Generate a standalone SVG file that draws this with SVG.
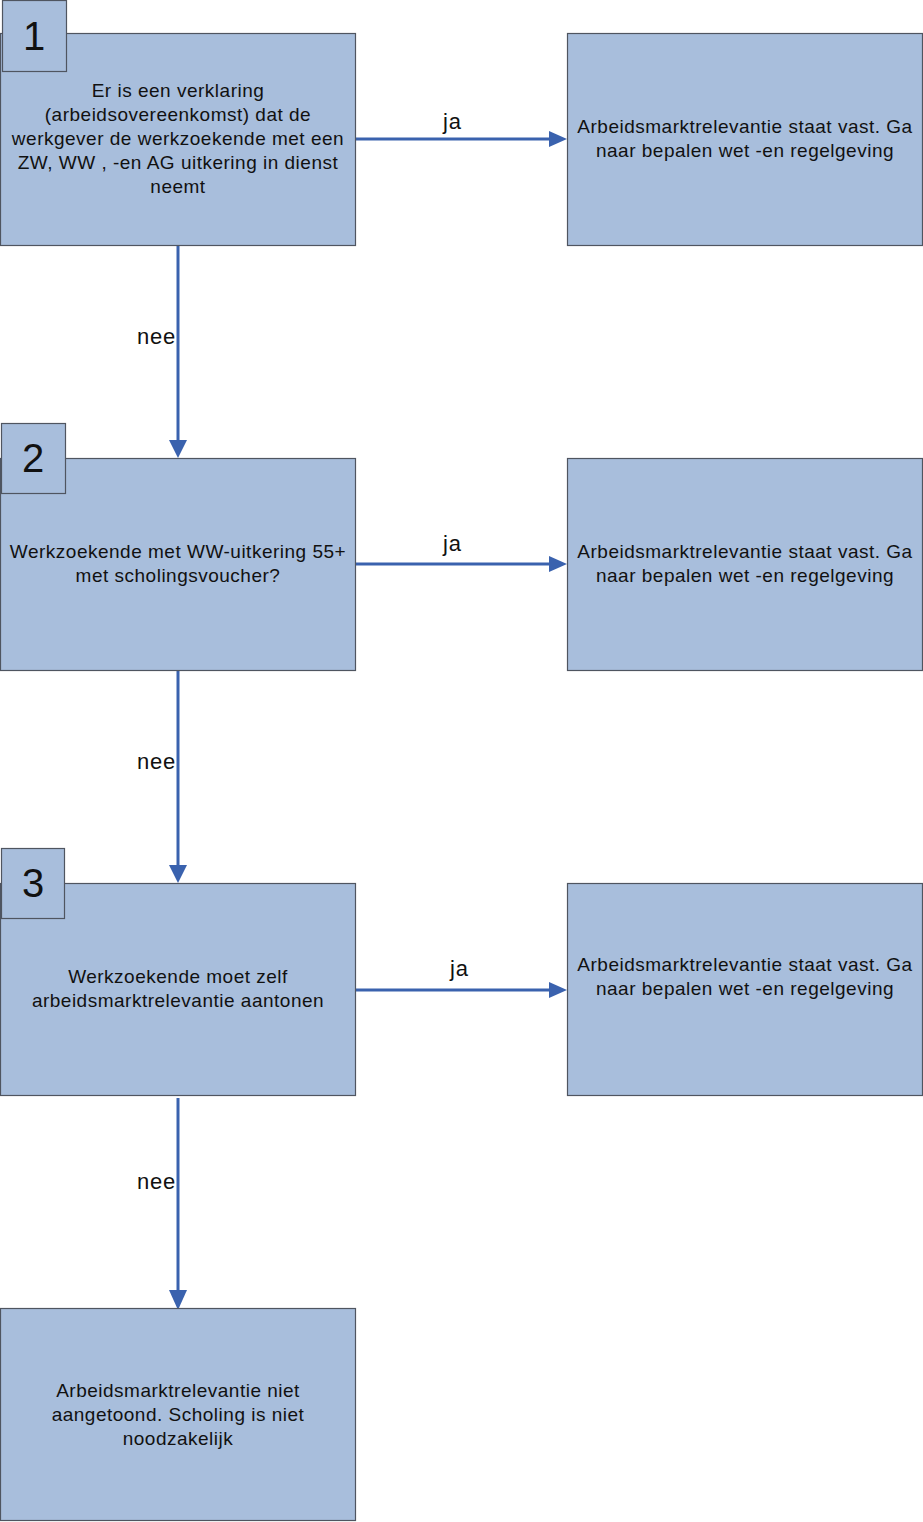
<svg xmlns="http://www.w3.org/2000/svg" width="923" height="1522" viewBox="0 0 923 1522">
<style>
.box{fill:#a8bedc;stroke:#4f5560;stroke-width:1.2}
.t{font-family:"Liberation Sans",Arial,sans-serif;font-size:19px;letter-spacing:0.5px;fill:#111;text-anchor:middle}
.num{font-family:"Liberation Sans",Arial,sans-serif;font-size:40px;fill:#111;text-anchor:middle}
.lbl{font-family:"Liberation Sans",Arial,sans-serif;font-size:22px;letter-spacing:0.8px;fill:#111}
.c{stroke:#3a62ae;stroke-width:3;fill:none}
.ah{fill:#3a62ae}
</style>
<rect width="923" height="1522" fill="#fff"/>
<g id="connectors">
<line class="c" x1="355" y1="139" x2="552" y2="139"/>
<path class="ah" d="M549,131 L567,139 L549,147 z"/>
<line class="c" x1="355" y1="564" x2="552" y2="564"/>
<path class="ah" d="M549,556 L567,564 L549,572 z"/>
<line class="c" x1="355" y1="990" x2="552" y2="990"/>
<path class="ah" d="M549,982 L567,990 L549,998 z"/>
<line class="c" x1="178" y1="245" x2="178" y2="443"/>
<path class="ah" d="M169,440 L178,458 L187,440 z"/>
<line class="c" x1="178" y1="670" x2="178" y2="868"/>
<path class="ah" d="M169,865 L178,883 L187,865 z"/>
<line class="c" x1="178" y1="1098" x2="178" y2="1293"/>
<path class="ah" d="M169,1290 L178,1310 L187,1290 z"/>
<text class="lbl" x="443" y="129">ja</text>
<text class="lbl" x="443" y="551">ja</text>
<text class="lbl" x="450" y="976">ja</text>
<text class="lbl" x="137" y="344">nee</text>
<text class="lbl" x="137" y="769">nee</text>
<text class="lbl" x="137" y="1189">nee</text>
</g>
<g id="node1">
<rect class="box" x="0.5" y="33.5" width="355" height="212"/>
<text class="t" x="178" y="97">Er is een verklaring</text>
<text class="t" x="178" y="121">(arbeidsovereenkomst) dat de</text>
<text class="t" x="178" y="145">werkgever de werkzoekende met een</text>
<text class="t" x="178" y="169">ZW, WW , -en AG uitkering in dienst</text>
<text class="t" x="178" y="193">neemt</text>
</g>
<g id="num1">
<rect class="box" x="2.5" y="0.5" width="64" height="71"/>
<text class="num" x="34" y="50">1</text>
</g>
<g id="node1r">
<rect class="box" x="567.5" y="33.5" width="355" height="212"/>
<text class="t" x="745" y="133">Arbeidsmarktrelevantie staat vast. Ga</text>
<text class="t" x="745" y="157">naar bepalen wet -en regelgeving</text>
</g>
<g id="node2">
<rect class="box" x="0.5" y="458.5" width="355" height="212"/>
<text class="t" x="178" y="558">Werkzoekende met WW-uitkering 55+</text>
<text class="t" x="178" y="582">met scholingsvoucher?</text>
</g>
<g id="num2">
<rect class="box" x="1.5" y="423.5" width="64" height="70"/>
<text class="num" x="33" y="472">2</text>
</g>
<g id="node2r">
<rect class="box" x="567.5" y="458.5" width="355" height="212"/>
<text class="t" x="745" y="558">Arbeidsmarktrelevantie staat vast. Ga</text>
<text class="t" x="745" y="582">naar bepalen wet -en regelgeving</text>
</g>
<g id="node3">
<rect class="box" x="0.5" y="883.5" width="355" height="212"/>
<text class="t" x="178" y="983">Werkzoekende moet zelf</text>
<text class="t" x="178" y="1007">arbeidsmarktrelevantie aantonen</text>
</g>
<g id="num3">
<rect class="box" x="1.5" y="848.5" width="63" height="70"/>
<text class="num" x="33" y="897">3</text>
</g>
<g id="node3r">
<rect class="box" x="567.5" y="883.5" width="355" height="212"/>
<text class="t" x="745" y="971">Arbeidsmarktrelevantie staat vast. Ga</text>
<text class="t" x="745" y="995">naar bepalen wet -en regelgeving</text>
</g>
<g id="node4">
<rect class="box" x="0.5" y="1308.5" width="355" height="212"/>
<text class="t" x="178" y="1397">Arbeidsmarktrelevantie niet</text>
<text class="t" x="178" y="1421">aangetoond. Scholing is niet</text>
<text class="t" x="178" y="1445">noodzakelijk</text>
</g>
</svg>
